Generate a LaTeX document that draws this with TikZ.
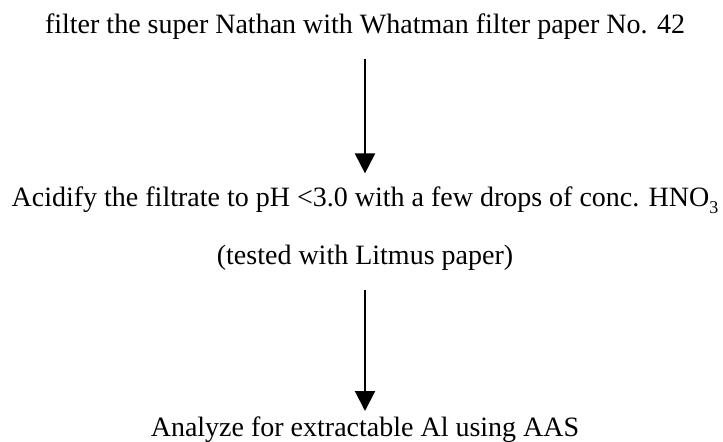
\documentclass[tikz,border=0pt]{standalone}
\usepackage{fontspec}
\setmainfont{Liberation Serif}
\usetikzlibrary{arrows.meta,positioning}

\tikzset{
  txt/.style={inner sep=0pt, text height=9.5pt, text depth=3pt,
    font=\fontsize{14}{16}\selectfont},
  flow/.style={-{Triangle[width=10pt,length=10pt]}, line width=1pt}
}
\newcommand{\lowsub}[1]{\raisebox{-3.5pt}{\fontsize{9}{9}\selectfont #1}}

\begin{document}
\begin{tikzpicture}[node distance=74pt]
  \useasboundingbox (0,0) rectangle (361.5pt,-220.5pt);

  \node [txt, anchor=base] (filter) at (182.5pt,-16.5pt)
    {filter the super Nathan with Whatman filter paper No. 42};
  \node [txt] [below=74pt of filter]  (acid)
    {Acidify the filtrate to pH <3.0 with a few drops of conc. HNO\lowsub{3}};
  \node [txt] [below=16pt of acid]    (tested) {(tested with Litmus paper)};
  \node [txt] [below=73pt of tested]  (analyze) {Analyze for extractable Al using AAS};

  \draw [flow, shorten <=10pt, shorten >=7pt]  (filter) -- (acid);
  \draw [flow, shorten <=9.5pt, shorten >=3pt] (tested) -- (analyze);
\end{tikzpicture}
\end{document}
